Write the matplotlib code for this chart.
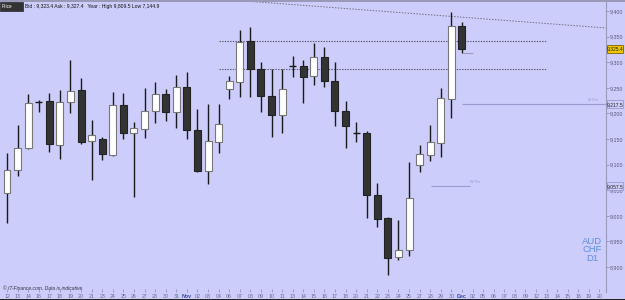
import matplotlib
matplotlib.use("Agg")
import matplotlib.pyplot as plt
from matplotlib.patches import Rectangle
import numpy as np

plt.rcParams['font.family'] = ['Liberation Sans', 'DejaVu Sans']

# ---- data -------------------------------------------------------------
opens = [9044.5, 9089.5, 9132.4, 9222.3, 9224.2, 9138.3, 9222.3, 9245.7, 9146.1, 9150.0,
         9118.8, 9216.4, 9161.7, 9169.5, 9204.7, 9237.9, 9202.7, 9251.6, 9167.6, 9087.5,
         9144.1, 9247.7, 9261.3, 9341.4, 9286.7, 9234.0, 9196.9, 9292.6, 9292.6, 9273.0,
         9310.2, 9263.3, 9204.7, 9161.7, 9161.7, 9040.6, 8995.7, 8919.5, 8933.2, 9099.2,
         9118.8, 9142.2, 9228.1, 9370.7]
highs = [9122.7, 9177.3, 9237.9, 9226.2, 9239.8, 9245.7, 9304.3, 9269.1, 9187.1, 9153.9,
         9241.8, 9239.8, 9183.2, 9249.6, 9261.3, 9247.7, 9275.0, 9280.9, 9208.6, 9218.4,
         9218.4, 9273.0, 9362.9, 9368.8, 9300.4, 9286.7, 9286.7, 9312.1, 9304.3, 9337.5,
         9329.7, 9300.4, 9224.2, 9183.2, 9165.6, 9064.0, 8997.7, 8991.8, 9105.1, 9138.3,
         9177.3, 9249.6, 9398.0, 9378.5]
lows = [8985.9, 9077.7, 9131.0, 9202.7, 9124.6, 9110.9, 9200.8, 9140.2, 9069.9, 9109.0,
        9116.8, 9150.0, 9036.7, 9152.0, 9181.3, 9185.2, 9171.5, 9150.0, 9086.0, 9062.1,
        9122.7, 9228.1, 9232.0, 9232.0, 9202.7, 9153.9, 9161.7, 9271.1, 9220.3, 9255.5,
        9251.6, 9175.4, 9132.4, 9144.1, 8995.7, 8978.1, 8884.4, 8913.7, 8921.5, 9085.5,
        9107.0, 9114.8, 9191.0, 9318.0]
closes = [9089.5, 9132.4, 9220.3, 9222.3, 9140.2, 9222.3, 9243.8, 9144.1, 9157.8, 9120.7,
          9216.4, 9161.7, 9171.5, 9204.7, 9237.9, 9202.7, 9251.6, 9167.6, 9087.5, 9146.1,
          9179.3, 9263.3, 9339.5, 9286.7, 9234.0, 9196.9, 9247.7, 9292.6, 9271.1, 9310.2,
          9263.3, 9204.7, 9175.4, 9161.7, 9040.6, 8993.8, 8917.6, 8933.2, 9034.8, 9120.7,
          9144.1, 9230.1, 9370.7, 9325.8]

date_labels = ["12", "13", "14", "16", "17", "18", "19", "20", "21", "23", "24", "25", "26",
               "27", "28", "30", "31", "Nov", "02", "03", "04", "06", "07", "08", "09", "10",
               "11", "13", "14", "15", "16", "17", "18", "20", "21", "22", "23", "24", "25",
               "27", "28", "29", "30", "Dec", "02", "05", "06", "07", "08", "09", "12", "13",
               "14", "15", "16", "19", "20"]

price_ticks = [8900, 8950, 9000, 9050, 9100, 9150, 9200, 9250, 9300, 9350, 9400]

resistance_levels = [9341.4, 9286.7]          # horizontal dotted lines
resistance_span = [20.0, 50.9]                # bar index range
trend_x = [20.0, 56.6]                        # descending trend line
trend_y = [9423.4, 9366.9]
monthly_pivot = 9217.5
weekly_pivot = 9057.5
last_price = 9325.4

# ---- figure -----------------------------------------------------------
W, H = 625, 300
BG = '#cdcdfb'
fig = plt.figure(figsize=(W / 100, H / 100), dpi=100, facecolor=BG)

def fx(px):
    return px / W

def fy(py):
    return 1 - py / H

ax_left, ax_right, ax_top, ax_bot = 0, 606, 1, 292
ax = fig.add_axes([fx(ax_left), fy(ax_bot), fx(ax_right - ax_left), (ax_bot - ax_top) / H])
ax.set_facecolor(BG)

# pixel mapping: y=11 -> 9400, y=267 -> 8900
ppu = 256 / 500.0
ax.set_ylim(9400 - (ax_bot - 11) / ppu, 9400 + (11 - ax_top) / ppu)
step = 10.58
ax.set_xlim((ax_left - 7) / step, (ax_right - 7) / step)

n = len(opens)
xs = np.arange(n)
body_w = 0.66
for i in range(n):
    o, h, l, c = opens[i], highs[i], lows[i], closes[i]
    ax.vlines(xs[i], l, h, color='#1a1a1a', lw=1.0, zorder=2)
    if abs(c - o) < 0.5:
        ax.hlines(o, xs[i] - body_w / 2, xs[i] + body_w / 2, color='#1a1a1a', lw=1.0, zorder=3)
    else:
        face = 'white' if c > o else '#333333'
        edge = '#777777' if c > o else '#222222'
        ax.add_patch(Rectangle((xs[i] - body_w / 2, min(o, c)), body_w, abs(c - o),
                               facecolor=face, edgecolor=edge, lw=0.8, zorder=3))

# horizontal dotted levels
for lv in resistance_levels:
    ax.hlines(lv, resistance_span[0], resistance_span[1], color='#555566', lw=0.8,
              linestyles=(0, (1.2, 1.2)), zorder=1)
# trend line
ax.plot(trend_x, trend_y, color='#6f6f80', lw=0.7, ls=(0, (1.5, 1.5)), zorder=1)
# pivot lines
ax.hlines(monthly_pivot, (462 - 7) / step, (606 - 7) / step, color='#9a9ad0', lw=0.8, zorder=1)
ax.hlines(weekly_pivot, (431 - 7) / step, (470 - 7) / step, color='#9a9ad0', lw=0.8, zorder=1)
ax.hlines(last_price - 8, (463 - 7) / step, (473 - 7) / step, color='#9999bb', lw=0.8, zorder=1)
ax.text((470 - 7) / step, weekly_pivot + 5, "W Piv", fontsize=2.8, color='#9a9ad0', va='bottom')
ax.text((598 - 7) / step, monthly_pivot + 4, "M Piv", fontsize=2.8, color='#9a9ad0', va='bottom',
        ha='right')

# spines
for s in ['top', 'left', 'bottom']:
    ax.spines[s].set_visible(False)
ax.spines['right'].set_color('#9999bb')
ax.spines['right'].set_linewidth(0.8)

# axes ticks
ax.yaxis.tick_right()
ax.set_yticks(price_ticks)
ax.set_yticklabels([f"{v:,}" for v in price_ticks])
ax.tick_params(axis='y', direction='out', length=2, width=0.5, colors='#8888aa',
               labelsize=3.8, labelcolor='#555577', pad=1)
ax.set_xticks(np.arange(len(date_labels)))
ax.set_xticklabels(date_labels)
ax.tick_params(axis='x', direction='in', length=2, width=0.5, colors='#8888aa',
               labelsize=3.8, labelcolor='#666688', pad=1.5)
for lbl in ax.get_xticklabels():
    if lbl.get_text() in ("Nov", "Dec"):
        lbl.set_color('#334499')
        lbl.set_fontweight('bold')

# price boxes on the axis
def axis_box(price, text, face, edge):
    ypix = 11 + (9400 - price) * ppu
    fig.patches.append(Rectangle((fx(607), fy(ypix + 4)), fx(16), 8 / H, transform=fig.transFigure,
                                 facecolor=face, edgecolor=edge, lw=0.6, zorder=5))
    fig.text(fx(615), fy(ypix), text, fontsize=3.6, ha='center', va='center', color='#222222',
             zorder=6)

axis_box(last_price, "9,325.4", '#f0c800', '#806000')
axis_box(monthly_pivot, "9,217.5", BG, '#9a9ad0')
axis_box(weekly_pivot, "9,057.5", BG, '#9a9ad0')

# top bar
fig.patches.append(Rectangle((0, fy(1.5)), 1, 1.5 / H, transform=fig.transFigure,
                             facecolor='#9a9ab8', edgecolor='none', zorder=5))
fig.patches.append(Rectangle((fx(0), fy(11)), fx(23), 9 / H, transform=fig.transFigure,
                             facecolor='#333333', edgecolor='#111111', lw=0.4, zorder=5))
fig.text(fx(2), fy(6.5), "Price", fontsize=3.3, color='white', va='center', zorder=6)
fig.text(fx(25), fy(6.5), "Bid : 9,323.4 Ask : 9,327.4   Year : High 9,809.5 Low 7,144.9",
         fontsize=3.6, color='#111111', va='center')

# footer
fig.text(fx(3), fy(288.5), "\u00a9 IT-Finance.com. Data is indicative", fontsize=3.6,
         color='#333344', va='center', style='italic')
fig.patches.append(Rectangle((0, 0), 1, 1.5 / H, transform=fig.transFigure,
                             facecolor='#222222', edgecolor='none', zorder=5))

# symbol label
fig.text(fx(592), fy(250), "AUD\nCHF\nD1", fontsize=6.8, color='#5f8fdc', ha='center',
         va='center', linespacing=0.95)

fig.savefig("out.png", dpi=100, facecolor=BG)
